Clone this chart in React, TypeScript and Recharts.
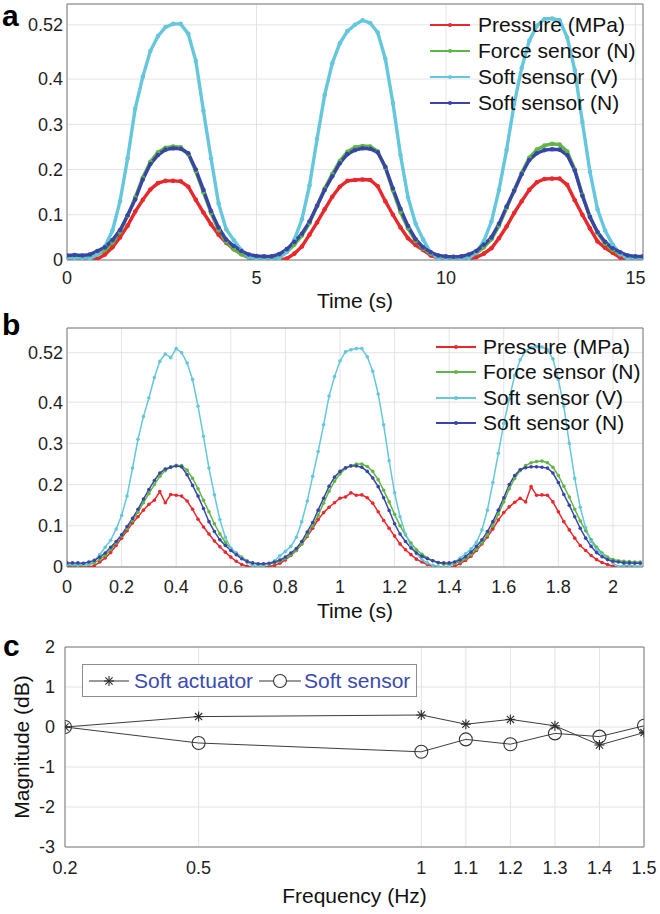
import React from 'react';
import { LineChart, Line, XAxis, YAxis, CartesianGrid, Legend } from 'recharts';

// ---------- Panel a data (Time 0..15.2 s, step 0.2 s) ----------
const TIME_A = [
  0, 0.2, 0.4, 0.6, 0.8, 1, 1.2, 1.4, 1.6, 1.8, 2, 2.2, 2.4, 2.6, 2.8, 3, 3.2, 3.4, 3.6, 3.8, 4, 4.2, 4.4, 4.6, 4.8,
  5, 5.2, 5.4, 5.6, 5.8, 6, 6.2, 6.4, 6.6, 6.8, 7, 7.2, 7.4, 7.6, 7.8, 8, 8.2, 8.4, 8.6, 8.8, 9, 9.2, 9.4, 9.6, 9.8,
  10, 10.2, 10.4, 10.6, 10.8, 11, 11.2, 11.4, 11.6, 11.8, 12, 12.2, 12.4, 12.6, 12.8, 13, 13.2, 13.4, 13.6, 13.8, 14, 14.2, 14.4, 14.6, 14.8,
  15, 15.2,
];
const PRESSURE_A = [
  0, 0, 0, 0, 0.002, 0.012, 0.028, 0.05, 0.076, 0.107, 0.133, 0.156, 0.17, 0.175, 0.175, 0.174, 0.162, 0.133, 0.105, 0.079, 0.056, 0.038, 0.024, 0.013, 0.005,
  0.001, 0, 0, 0, 0.003, 0.014, 0.03, 0.056, 0.083, 0.112, 0.14, 0.162, 0.175, 0.177, 0.178, 0.177, 0.163, 0.13, 0.1, 0.072, 0.048, 0.033, 0.022, 0.01, 0.004,
  0, 0, 0, 0.001, 0.006, 0.014, 0.026, 0.048, 0.074, 0.104, 0.13, 0.155, 0.172, 0.179, 0.18, 0.18, 0.166, 0.132, 0.1, 0.07, 0.041, 0.027, 0.016, 0.005, 0.001,
  0, 0,
];
const FORCE_A = [
  0.005, 0.005, 0.004, 0.005, 0.012, 0.022, 0.038, 0.062, 0.098, 0.138, 0.182, 0.217, 0.238, 0.248, 0.251, 0.249, 0.234, 0.196, 0.15, 0.104, 0.066, 0.04, 0.024, 0.013, 0.006,
  0.003, 0.003, 0.004, 0.008, 0.018, 0.034, 0.054, 0.082, 0.12, 0.158, 0.19, 0.219, 0.239, 0.249, 0.252, 0.251, 0.24, 0.204, 0.154, 0.106, 0.07, 0.042, 0.025, 0.014, 0.006,
  0.004, 0.004, 0.005, 0.008, 0.015, 0.028, 0.046, 0.076, 0.115, 0.154, 0.193, 0.226, 0.244, 0.253, 0.257, 0.255, 0.24, 0.2, 0.144, 0.096, 0.06, 0.036, 0.022, 0.012, 0.006,
  0.004, 0.004,
];
const SOFT_V_A = [
  0.005, 0.004, 0.005, 0.003, 0.012, 0.03, 0.065, 0.13, 0.225, 0.335, 0.405, 0.462, 0.495, 0.515, 0.522, 0.522, 0.5, 0.44, 0.33, 0.225, 0.125, 0.068, 0.044, 0.022, 0.006,
  0.001, 0, 0, 0.004, 0.018, 0.045, 0.09, 0.165, 0.268, 0.365, 0.435, 0.479, 0.506, 0.52, 0.53, 0.524, 0.503, 0.445, 0.347, 0.232, 0.138, 0.08, 0.045, 0.016, 0.003,
  0, 0, 0.001, 0.004, 0.016, 0.042, 0.085, 0.155, 0.243, 0.345, 0.425, 0.485, 0.518, 0.533, 0.534, 0.53, 0.492, 0.42, 0.305, 0.195, 0.112, 0.065, 0.034, 0.013, 0.003,
  0, 0,
];
const SOFT_N_A = [
  0.01, 0.011, 0.01, 0.012, 0.02, 0.028, 0.044, 0.066, 0.099, 0.134, 0.178, 0.212, 0.232, 0.244, 0.247, 0.246, 0.236, 0.2, 0.155, 0.108, 0.072, 0.045, 0.031, 0.02, 0.012,
  0.009, 0.008, 0.008, 0.013, 0.024, 0.04, 0.058, 0.085, 0.12, 0.155, 0.185, 0.214, 0.234, 0.243, 0.247, 0.246, 0.238, 0.206, 0.158, 0.113, 0.075, 0.046, 0.028, 0.017, 0.01,
  0.008, 0.007, 0.008, 0.012, 0.02, 0.034, 0.05, 0.08, 0.118, 0.153, 0.19, 0.221, 0.236, 0.243, 0.245, 0.244, 0.232, 0.198, 0.142, 0.095, 0.062, 0.04, 0.026, 0.017, 0.01,
  0.008, 0.008,
];
const X_TICKS_A = [0, 5, 10, 15];

// ---------- Panel b data (Time 0..2.10 s, step 0.02 s) ----------
const TIME_B = [
  0, 0.02, 0.04, 0.06, 0.08, 0.1, 0.12, 0.14, 0.16, 0.18, 0.2, 0.22, 0.24, 0.26, 0.28, 0.3, 0.32, 0.34, 0.36, 0.38,
  0.4, 0.42, 0.44, 0.46, 0.48, 0.5, 0.52, 0.54, 0.56, 0.58, 0.6, 0.62, 0.64, 0.66, 0.68, 0.7,
  0.72, 0.74, 0.76, 0.78, 0.8, 0.82, 0.84, 0.86, 0.88, 0.9, 0.92, 0.94, 0.96, 0.98, 1, 1.02, 1.04, 1.06, 1.08, 1.1,
  1.12, 1.14, 1.16, 1.18, 1.2, 1.22, 1.24, 1.26, 1.28, 1.3, 1.32, 1.34, 1.36, 1.38, 1.4,
  1.42, 1.44, 1.46, 1.48, 1.5, 1.52, 1.54, 1.56, 1.58, 1.6, 1.62, 1.64, 1.66, 1.68, 1.7, 1.72, 1.74, 1.76, 1.78, 1.8,
  1.82, 1.84, 1.86, 1.88, 1.9, 1.92, 1.94, 1.96, 1.98, 2, 2.02, 2.04, 2.06, 2.08, 2.1,
];
const PRESSURE_B = [
  0.003, 0, 0.002, 0, 0, 0.003, 0.012, 0.022, 0.035, 0.052, 0.07, 0.088, 0.107, 0.122, 0.138, 0.152, 0.162, 0.183, 0.156, 0.176,
  0.174, 0.172, 0.16, 0.14, 0.116, 0.097, 0.08, 0.063, 0.049, 0.036, 0.024, 0.014, 0.006, 0.002, 0, 0,
  0, 0.001, 0.004, 0.009, 0.017, 0.028, 0.04, 0.056, 0.074, 0.094, 0.115, 0.132, 0.145, 0.156, 0.167, 0.17, 0.18, 0.174, 0.175, 0.168,
  0.155, 0.134, 0.113, 0.094, 0.075, 0.056, 0.042, 0.03, 0.019, 0.012, 0.006, 0.002, 0, 0, 0,
  0.002, 0.008, 0.016, 0.026, 0.04, 0.056, 0.073, 0.092, 0.114, 0.132, 0.146, 0.157, 0.167, 0.158, 0.195, 0.174, 0.175, 0.174, 0.158, 0.134,
  0.11, 0.09, 0.07, 0.052, 0.04, 0.028, 0.018, 0.011, 0.006, 0.002, 0, 0.002, 0.001, 0, 0,
];
const FORCE_B = [
  0.005, 0.005, 0.004, 0.005, 0.006, 0.01, 0.018, 0.028, 0.042, 0.058, 0.075, 0.093, 0.112, 0.133, 0.156, 0.178, 0.2, 0.22, 0.234, 0.243,
  0.247, 0.246, 0.235, 0.215, 0.19, 0.162, 0.134, 0.105, 0.08, 0.06, 0.045, 0.034, 0.024, 0.015, 0.009, 0.006,
  0.006, 0.007, 0.01, 0.014, 0.02, 0.029, 0.04, 0.056, 0.076, 0.099, 0.125, 0.155, 0.184, 0.208, 0.226, 0.239, 0.246, 0.25, 0.25, 0.244,
  0.232, 0.212, 0.186, 0.158, 0.128, 0.1, 0.078, 0.058, 0.042, 0.031, 0.022, 0.015, 0.01, 0.007, 0.006,
  0.008, 0.013, 0.02, 0.03, 0.043, 0.058, 0.077, 0.1, 0.128, 0.158, 0.19, 0.215, 0.234, 0.246, 0.253, 0.256, 0.257, 0.253, 0.242, 0.222,
  0.196, 0.17, 0.14, 0.112, 0.088, 0.066, 0.048, 0.034, 0.024, 0.018, 0.015, 0.014, 0.013, 0.012, 0.012,
];
const SOFT_V_B = [
  0.006, 0.006, 0.005, 0.006, 0.007, 0.015, 0.03, 0.048, 0.065, 0.092, 0.125, 0.172, 0.24, 0.31, 0.365, 0.41, 0.46, 0.499, 0.517, 0.508,
  0.53, 0.52, 0.495, 0.455, 0.39, 0.317, 0.24, 0.175, 0.115, 0.072, 0.046, 0.033, 0.022, 0.012, 0.004, 0,
  0.004, 0.008, 0.015, 0.027, 0.038, 0.05, 0.072, 0.11, 0.16, 0.22, 0.28, 0.345, 0.415, 0.462, 0.5, 0.522, 0.527, 0.53, 0.53, 0.51,
  0.475, 0.42, 0.345, 0.258, 0.18, 0.122, 0.08, 0.052, 0.032, 0.018, 0.01, 0.004, 0.001, 0, 0.002,
  0.012, 0.022, 0.032, 0.044, 0.06, 0.09, 0.138, 0.205, 0.276, 0.348, 0.408, 0.465, 0.503, 0.524, 0.532, 0.535, 0.534, 0.527, 0.505, 0.455,
  0.39, 0.3, 0.215, 0.145, 0.095, 0.062, 0.043, 0.03, 0.019, 0.01, 0.001, 0.003, 0.004, 0.002, 0.002,
];
const SOFT_N_B = [
  0.01, 0.01, 0.01, 0.009, 0.012, 0.016, 0.024, 0.034, 0.048, 0.062, 0.078, 0.098, 0.118, 0.14, 0.165, 0.188, 0.21, 0.228, 0.238, 0.242,
  0.245, 0.243, 0.224, 0.198, 0.172, 0.142, 0.11, 0.086, 0.066, 0.052, 0.04, 0.03, 0.02, 0.013, 0.01, 0.008,
  0.008, 0.009, 0.012, 0.017, 0.024, 0.034, 0.045, 0.062, 0.085, 0.108, 0.138, 0.167, 0.196, 0.218, 0.232, 0.241, 0.245, 0.245, 0.242, 0.232,
  0.216, 0.195, 0.168, 0.137, 0.105, 0.08, 0.062, 0.046, 0.034, 0.026, 0.02, 0.015, 0.011, 0.01, 0.01,
  0.012, 0.017, 0.025, 0.036, 0.05, 0.066, 0.086, 0.11, 0.138, 0.168, 0.2, 0.222, 0.236, 0.241, 0.243, 0.243, 0.242, 0.24, 0.228, 0.205,
  0.176, 0.15, 0.122, 0.094, 0.07, 0.05, 0.035, 0.025, 0.018, 0.014, 0.012, 0.01, 0.01, 0.009, 0.009,
];
const X_TICKS_B = [0, 0.2, 0.4, 0.6, 0.8, 1, 1.2, 1.4, 1.6, 1.8, 2];

const Y_TICKS_AB = [0, 0.1, 0.2, 0.25, 0.3, 0.4, 0.52];

// ---------- Panel c data ----------
const FREQ_C = [0.2, 0.5, 1, 1.1, 1.2, 1.3, 1.4, 1.5];
const ACTUATOR_C = [0, 0.26, 0.3, 0.07, 0.19, 0.03, -0.45, -0.14];
const SENSOR_C = [0, -0.4, -0.62, -0.31, -0.43, -0.16, -0.24, 0.03];
const Y_TICKS_C = [-3, -2, -1, 0, 1, 2];

// ---------- styles ----------
const FONT = '"Liberation Sans", Arial, Helvetica, sans-serif';
const AXIS = '#7b7b7b';
const GRID = '#e3e3e3';
const TXT = '#1e1e1e';

const SERIES = [
  { key: 'p', name: 'Pressure (MPa)', color: '#e8282c' },
  { key: 'f', name: 'Force sensor (N)', color: '#5fb545' },
  { key: 'v', name: 'Soft sensor (V)', color: '#64c7dc' },
  { key: 'n', name: 'Soft sensor (N)', color: '#3945a6' },
];

const rowsA = TIME_A.map((t, i) => ({ t, p: PRESSURE_A[i], f: FORCE_A[i], v: SOFT_V_A[i], n: SOFT_N_A[i] }));
const rowsB = TIME_B.map((t, i) => ({ t, p: PRESSURE_B[i], f: FORCE_B[i], v: SOFT_V_B[i], n: SOFT_N_B[i] }));
const rowsC = FREQ_C.map((f, i) => ({ f, a: ACTUATOR_C[i], s: SENSOR_C[i] }));

const TimeLegend = ({ rowH, gap }: { rowH: number; gap: number }) => (
  <div style={{ fontFamily: FONT, fontSize: 21, color: '#111' }}>
    {SERIES.map((s) => (
      <div key={s.key} style={{ display: 'flex', alignItems: 'center', height: rowH, whiteSpace: 'nowrap' }}>
        <svg width={40} height={10} style={{ display: 'block' }}>
          <line x1={0} y1={5} x2={40} y2={5} stroke={s.color} strokeWidth={2} />
          <circle cx={20} cy={5} r={2} fill={s.color} />
        </svg>
        <span style={{ marginLeft: gap }}>{s.name}</span>
      </div>
    ))}
  </div>
);

type PanelProps = {
  rows: any[];
  height: number;
  marginTop: number;
  xAxisHeight: number;
  xDomain: [number, number];
  xTicks: number[];
  yDomain: [number, number];
  tickMargin: number;
  labelOffset: number;
  legendLeft: number;
  legendTop: number;
  legendRow: number;
  legendGap: number;
  lineWidth: number;
  dotR: number;
};

const tickStyle = { fill: TXT, fontSize: 18, fontFamily: FONT };

function TimePanel(p: PanelProps) {
  return (
    <LineChart width={660} height={p.height} data={p.rows} margin={{ top: p.marginTop, right: 17, left: 7, bottom: 0 }}>
      <CartesianGrid stroke={GRID} strokeWidth={1} />
      <XAxis
        dataKey="t" type="number" domain={p.xDomain} ticks={p.xTicks} allowDataOverflow
        height={p.xAxisHeight} tickLine={false} tickSize={0} tickMargin={p.tickMargin}
        axisLine={{ stroke: AXIS }} tick={tickStyle}
        label={{ value: 'Time (s)', position: 'insideBottom', offset: p.labelOffset, fill: '#111', fontSize: 21, fontFamily: FONT }}
      />
      <XAxis xAxisId="bm" dataKey="t" type="number" domain={p.xDomain} ticks={p.xTicks} allowDataOverflow
        mirror tick={false} tickLine={{ stroke: AXIS }} tickSize={5} axisLine={false} />
      <XAxis xAxisId="top" orientation="top" dataKey="t" type="number" domain={p.xDomain} ticks={p.xTicks} allowDataOverflow
        mirror tick={false} tickLine={{ stroke: AXIS }} tickSize={5} axisLine={{ stroke: AXIS }} />
      <YAxis type="number" domain={p.yDomain} ticks={Y_TICKS_AB} allowDataOverflow width={60}
        tickLine={false} tickSize={0} tickMargin={4} axisLine={{ stroke: AXIS }} tick={tickStyle} />
      <YAxis yAxisId="lm" type="number" domain={p.yDomain} ticks={Y_TICKS_AB} allowDataOverflow
        mirror tick={false} tickLine={{ stroke: AXIS }} tickSize={5} axisLine={false} />
      <YAxis yAxisId="right" orientation="right" type="number" domain={p.yDomain} ticks={Y_TICKS_AB} allowDataOverflow
        mirror tick={false} tickLine={{ stroke: AXIS }} tickSize={5} axisLine={{ stroke: AXIS }} />
      {SERIES.map((s) => (
        <Line key={s.key} type="linear" dataKey={s.key} name={s.name} stroke={s.color} strokeWidth={p.lineWidth}
          dot={{ r: p.dotR, fill: s.color, stroke: s.color, strokeWidth: 0 }} activeDot={false} isAnimationActive={false} />
      ))}
      <Legend layout="vertical" align="center" verticalAlign="middle"
        wrapperStyle={{ left: p.legendLeft, top: p.legendTop, width: 'auto', height: 'auto' }}
        content={() => <TimeLegend rowH={p.legendRow} gap={p.legendGap} />} />
    </LineChart>
  );
}

const STAR_COLOR = '#2b2b2b';
const StarDot = (props: any) => {
  const { cx, cy, index } = props;
  if (cx == null || cy == null) return <g key={`s${index}`} />;
  const r = 5;
  const d = r * 0.72;
  return (
    <g key={`s${index}`} stroke={STAR_COLOR} strokeWidth={1.1}>
      <line x1={cx} y1={cy - r} x2={cx} y2={cy + r} />
      <line x1={cx - r} y1={cy} x2={cx + r} y2={cy} />
      <line x1={cx - d} y1={cy - d} x2={cx + d} y2={cy + d} />
      <line x1={cx - d} y1={cy + d} x2={cx + d} y2={cy - d} />
    </g>
  );
};
const CircleDot = (props: any) => {
  const { cx, cy, index } = props;
  if (cx == null || cy == null) return <g key={`c${index}`} />;
  return <circle key={`c${index}`} cx={cx} cy={cy} r={6.5} fill="none" stroke="#333" strokeWidth={1.1} />;
};

const LegendC = () => (
  <div style={{
    width: 333, height: 31, border: '1px solid #8c8c8c', background: '#fff', boxSizing: 'content-box',
    display: 'flex', alignItems: 'center', fontFamily: FONT, fontSize: 21, color: '#3a4bb0', whiteSpace: 'nowrap',
  }}>
    <svg width={40} height={16} style={{ display: 'block', marginLeft: 6 }}>
      <line x1={0} y1={8} x2={40} y2={8} stroke="#333" strokeWidth={1} />
      <g stroke={STAR_COLOR} strokeWidth={1.1}>
        <line x1={20} y1={3} x2={20} y2={13} />
        <line x1={15} y1={8} x2={25} y2={8} />
        <line x1={16.4} y1={4.4} x2={23.6} y2={11.6} />
        <line x1={16.4} y1={11.6} x2={23.6} y2={4.4} />
      </g>
    </svg>
    <span style={{ marginLeft: 5 }}>Soft actuator</span>
    <svg width={42} height={16} style={{ display: 'block', marginLeft: 6 }}>
      <line x1={0} y1={8} x2={42} y2={8} stroke="#333" strokeWidth={1} />
      <circle cx={21} cy={8} r={6.5} fill="#fff" stroke="#333" strokeWidth={1.1} />
    </svg>
    <span style={{ marginLeft: 3 }}>Soft sensor</span>
  </div>
);

function PanelC() {
  return (
    <LineChart width={660} height={292} data={rowsC} margin={{ top: 25, right: 16, left: 5, bottom: 0 }}>
      <CartesianGrid stroke={GRID} strokeWidth={1} />
      <XAxis dataKey="f" type="number" domain={[0.2, 1.5]} ticks={FREQ_C} allowDataOverflow height={67}
        tickLine={false} tickSize={0} tickMargin={14} axisLine={{ stroke: AXIS }}
        tick={{ fill: TXT, fontSize: 18, fontFamily: FONT }}
        label={{ value: 'Frequency (Hz)', position: 'insideBottom', offset: 11, fill: '#111', fontSize: 21, fontFamily: FONT }} />
      <XAxis xAxisId="bm" dataKey="f" type="number" domain={[0.2, 1.5]} ticks={FREQ_C} allowDataOverflow
        mirror tick={false} tickLine={{ stroke: AXIS }} tickSize={5} axisLine={false} />
      <XAxis xAxisId="top" orientation="top" dataKey="f" type="number" domain={[0.2, 1.5]} ticks={FREQ_C} allowDataOverflow
        mirror tick={false} tickLine={{ stroke: AXIS }} tickSize={5} axisLine={{ stroke: AXIS }} />
      <YAxis type="number" domain={[-3, 2]} ticks={Y_TICKS_C} allowDataOverflow width={60}
        tickLine={false} tickSize={0} tickMargin={10} axisLine={{ stroke: AXIS }}
        tick={{ fill: TXT, fontSize: 18, fontFamily: FONT }}
        label={{ value: 'Magnitude (dB)', angle: -90, position: 'insideLeft', offset: 17, fill: '#111', fontSize: 21, fontFamily: FONT, style: { textAnchor: 'middle' } }} />
      <YAxis yAxisId="lm" type="number" domain={[-3, 2]} ticks={Y_TICKS_C} allowDataOverflow
        mirror tick={false} tickLine={{ stroke: AXIS }} tickSize={5} axisLine={false} />
      <YAxis yAxisId="right" orientation="right" type="number" domain={[-3, 2]} ticks={Y_TICKS_C} allowDataOverflow
        mirror tick={false} tickLine={{ stroke: AXIS }} tickSize={5} axisLine={{ stroke: AXIS }} />
      <Line type="linear" dataKey="a" name="Soft actuator" stroke="#3c3c3c" strokeWidth={1}
        dot={<StarDot />} activeDot={false} isAnimationActive={false} />
      <Line type="linear" dataKey="s" name="Soft sensor" stroke="#3c3c3c" strokeWidth={1}
        dot={<CircleDot />} activeDot={false} isAnimationActive={false} />
      <Legend layout="vertical" align="center" verticalAlign="middle"
        wrapperStyle={{ left: 82, top: 42, width: 'auto', height: 'auto' }}
        content={() => <LegendC />} />
    </LineChart>
  );
}

const letterStyle: React.CSSProperties = {
  position: 'absolute', fontFamily: FONT, fontWeight: 'bold', fontSize: 30, color: '#000', lineHeight: 1,
};

export default function App() {
  return (
    <div style={{ position: 'absolute', left: 0, top: 0, width: 660, height: 914, background: '#fff', overflow: 'hidden' }}>
      <div style={{ position: 'absolute', left: 0, top: 0 }}>
        <TimePanel rows={rowsA} height={312} marginTop={4} xAxisHeight={52} xDomain={[0, 15.2]} xTicks={X_TICKS_A}
          yDomain={[0, 0.566]} tickMargin={11} labelOffset={4}
          legendLeft={430} legendTop={12} legendRow={26} legendGap={8} lineWidth={3.4} dotR={2.3} />
      </div>
      <div style={{ position: 'absolute', left: 0, top: 312 }}>
        <TimePanel rows={rowsB} height={310} marginTop={16} xAxisHeight={55} xDomain={[0, 2.11]} xTicks={X_TICKS_B}
          yDomain={[0, 0.58]} tickMargin={13} labelOffset={4}
          legendLeft={436} legendTop={22} legendRow={25.5} legendGap={7} lineWidth={1.5} dotR={1.8} />
      </div>
      <div style={{ position: 'absolute', left: 0, top: 622 }}>
        <PanelC />
      </div>
      <div style={{ ...letterStyle, left: 2, top: 1 }}>a</div>
      <div style={{ ...letterStyle, left: 2, top: 310 }}>b</div>
      <div style={{ ...letterStyle, left: 3, top: 631 }}>c</div>
    </div>
  );
}
